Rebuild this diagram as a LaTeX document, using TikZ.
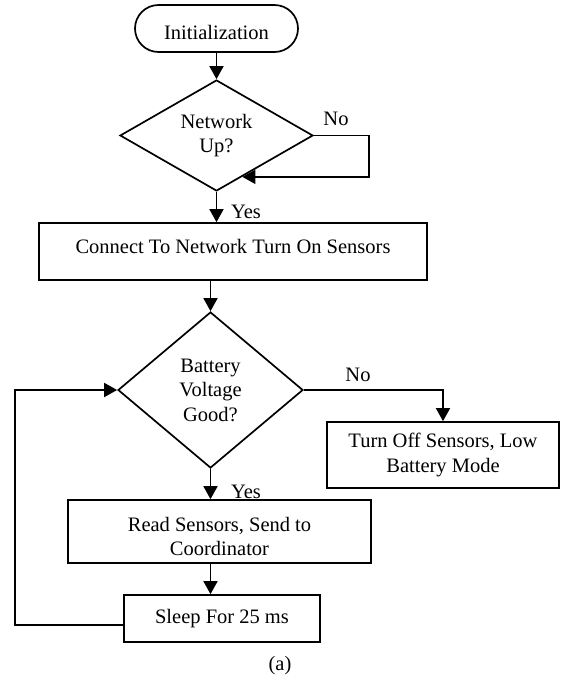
\documentclass[tikz,border=0pt]{standalone}
\usepackage{fontspec}
\setmainfont{Liberation Serif}
\usetikzlibrary{positioning,shapes.geometric,arrows.meta}

\begin{document}
\begin{tikzpicture}[x=1pt,y=-1pt,line width=1.7pt,
    every node/.style={font=\fontsize{20.5pt}{24.5pt}\selectfont},
    box/.style={draw,rectangle,inner sep=0pt,align=center},
    decision/.style={draw,diamond,inner sep=0pt,align=center},
    arr/.style={-{Triangle[length=13pt,width=14pt]}}]
    \useasboundingbox (0,0) rectangle (564,681);
    % blocks
    \node[box,rounded corners=23.5pt,minimum width=163pt,minimum height=47pt,text height=21pt,text depth=0pt] (init) at (216.5,28.5) {Initialization};
    \node[decision,aspect=1.74,minimum width=193pt,minimum height=111pt] (net) at (216.5,135.5) {Network\\Up?};
    \node[box,minimum width=388pt,minimum height=57pt] (connect) at (233,251.5) {\raisebox{11pt}{Connect To Network Turn On Sensors}};
    \node[decision,aspect=1.19,minimum width=185pt,minimum height=156pt] (batt) at (210.5,390) {Battery\\Voltage\\Good?};
    \node[box,minimum width=232pt,minimum height=66pt] (off) at (443,455) {Turn Off Sensors, Low\\Battery Mode};
    \node[box,minimum width=303pt,minimum height=63pt] (read) at (219.5,531.5) {\rule{0pt}{24pt}Read Sensors, Send to\\Coordinator};
    \node[box,minimum width=196pt,minimum height=47pt] (sleep) at (222,618.5) {Sleep For 25 ms};
    \node (caption) at (280,666) {(a)};
    % branch labels
    \node (no1) at (336,119) {No};
    \node (yes1) at (246,212) {Yes};
    \node (no2) at (358,375) {No};
    \node (yes2) at (246,492) {Yes};
    % flow
    \draw[arr] (init) -- (net);
    \draw[arr] (net.east) -- ++(55,0) |- (net.-58);
    \draw[arr] (net.south) -- (net.south |- connect.north);
    \draw[arr] (connect.south -| batt.north) -- (batt.north);
    \draw[arr] (batt.east) -| (off.north);
    \draw[arr] (batt.south) -- (batt.south |- read.north);
    \draw[arr] (read.south -| batt.south) -- (sleep.north -| batt.south);
    \draw[arr] ([yshift=-6.5pt]sleep.west) -- ++(-108,0) |- (batt.west);
\end{tikzpicture}
\end{document}
